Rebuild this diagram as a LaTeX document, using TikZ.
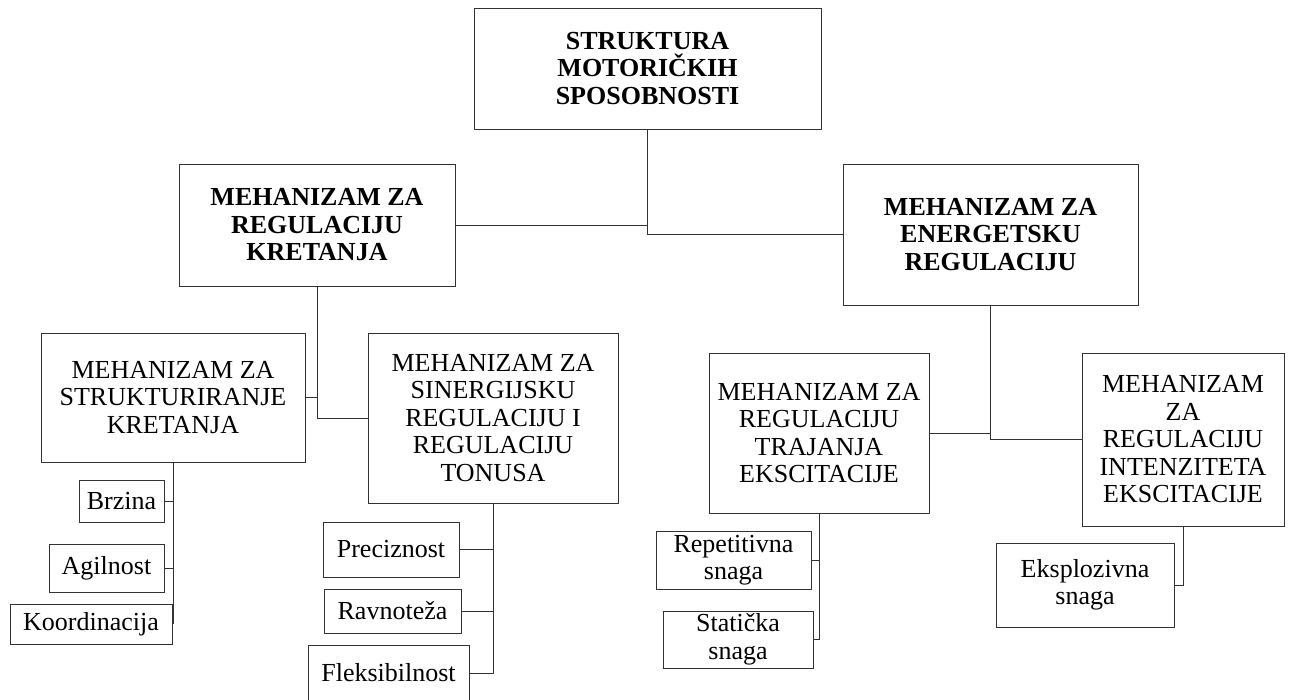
\documentclass[tikz,border=0pt]{standalone}
\usepackage{fontspec}
\setmainfont{Liberation Serif}
\begin{document}
\begin{tikzpicture}[x=1pt,y=-1pt,
  box/.style={draw=black!80, line width=1pt, inner sep=0pt, align=center,
    font=\fontsize{26}{27.5}\selectfont},
  bbox/.style={box, font=\fontsize{26}{27.5}\selectfont\bfseries},
  conn/.style={draw=black!80, line width=1pt}]
\useasboundingbox (0,0) rectangle (1290,699);
\clip (0,0) rectangle (1290,699);
% main boxes
\node[bbox, minimum width=347pt, minimum height=121pt] (top) at (647.5,68.5) {STRUKTURA\\MOTORIČKIH\\SPOSOBNOSTI};
\node[bbox, minimum width=276pt, minimum height=122pt] (regk) at (317,225) {MEHANIZAM ZA\\REGULACIJU\\KRETANJA};
\node[bbox, minimum width=295pt, minimum height=141pt] (energ) at (990.5,234.5) {MEHANIZAM ZA\\ENERGETSKU\\REGULACIJU};
% second level
\node[box, minimum width=264pt, minimum height=129pt] (strukt) at (173,397.5) {MEHANIZAM ZA\\STRUKTURIRANJE\\KRETANJA};
\node[box, minimum width=250pt, minimum height=170pt] (siner) at (493,418) {MEHANIZAM ZA\\SINERGIJSKU\\REGULACIJU I\\REGULACIJU\\TONUSA};
\node[box, minimum width=220pt, minimum height=160pt] (traj) at (819,433) {MEHANIZAM ZA\\REGULACIJU\\TRAJANJA\\EKSCITACIJE};
\node[box, minimum width=202pt, minimum height=173pt] (inten) at (1183,439.5) {MEHANIZAM\\ZA\\REGULACIJU\\INTENZITETA\\EKSCITACIJE};
% leaves
\node[box, minimum width=85pt, minimum height=42pt] (brz) at (121.5,501) {Brzina};
\node[box, minimum width=115pt, minimum height=48pt] (agil) at (106.5,568) {Agilnost};
\node[box, minimum width=162pt, minimum height=40pt] (koord) at (91,624) {Koordinacija};
\node[box, minimum width=136pt, minimum height=55pt] (prec) at (391,549.5) {Preciznost};
\node[box, minimum width=137pt, minimum height=44pt] (ravn) at (392.5,611) {Ravnoteža};
\node[box, minimum width=161pt, minimum height=56pt] (fleks) at (388.5,673) {Fleksibilnost};
\node[box, minimum width=155pt, minimum height=58pt] (rep) at (733.5,560) {Repetitivna\\snaga};
\node[box, minimum width=150pt, minimum height=57pt] (stat) at (738,639.5) {Statička\\snaga};
\node[box, minimum width=178pt, minimum height=84pt] (eksp) at (1085,585) {Eksplozivna\\snaga};
% connectors
\draw[conn] (top.south) |- (energ.west);
\draw[conn] (top.south |- regk.east) -- (regk.east);
\draw[conn] (regk.south) |- (siner.west);
\draw[conn] (strukt.east) -- (strukt.east -| regk.south);
\draw[conn] (strukt.south) -- (strukt.south |- koord.east);
\draw[conn] (brz.east) -- (brz.east -| strukt.south);
\draw[conn] (agil.east) -- (agil.east -| strukt.south);
\draw[conn] (siner.south) |- (fleks.east);
\draw[conn] (prec.east) -- (prec.east -| siner.south);
\draw[conn] (ravn.east) -- (ravn.east -| siner.south);
\draw[conn] (energ.south) |- (inten.west);
\draw[conn] (traj.east) -- (traj.east -| energ.south);
\draw[conn] (traj.south) |- (stat.east);
\draw[conn] (rep.east) -- (rep.east -| traj.south);
\draw[conn] (inten.south) |- (eksp.east);
\end{tikzpicture}
\end{document}
